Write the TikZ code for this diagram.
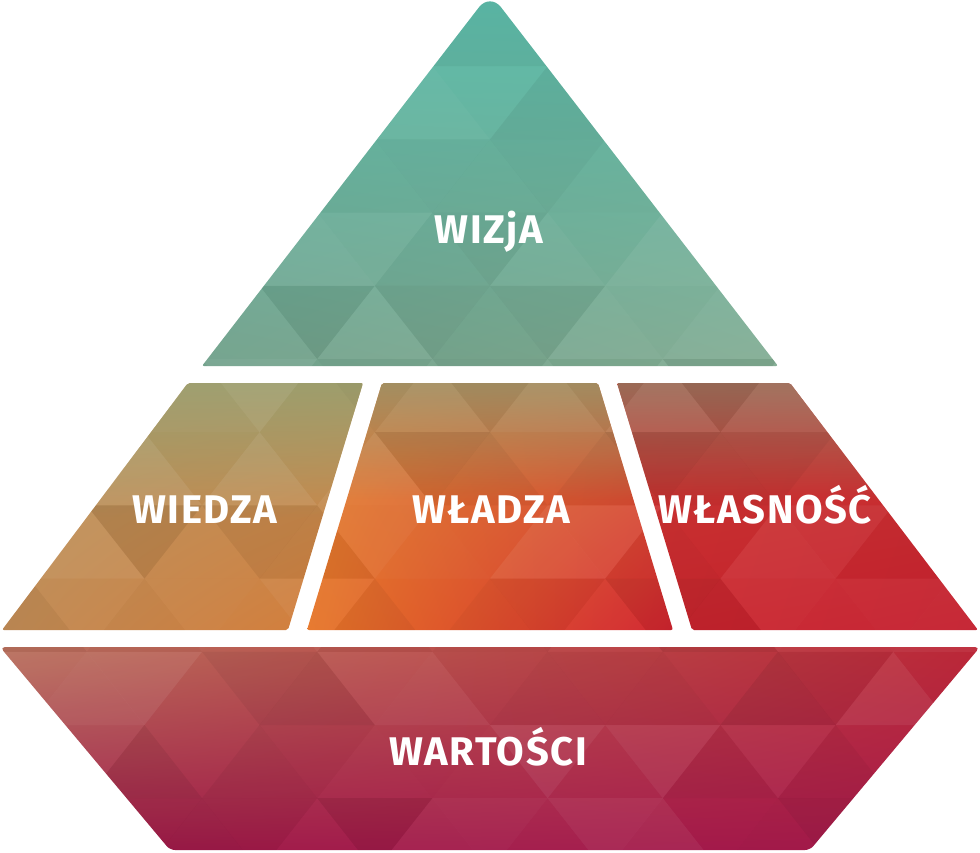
\documentclass[tikz,border=0pt]{standalone}
\usepackage{fontspec}
\setmainfont{Fira Sans}
\usetikzlibrary{shadings,fadings}
\definecolor{tUL}{RGB}{96,190,172}\definecolor{tUR}{RGB}{90,188,170}
\definecolor{tLL}{RGB}{112,160,138}\definecolor{tLR}{RGB}{130,172,146}
\definecolor{lUL}{RGB}{180,146,92}\definecolor{lUR}{RGB}{190,146,90}
\definecolor{lLL}{RGB}{194,140,86}\definecolor{lLR}{RGB}{214,124,56}
\definecolor{cUL}{RGB}{222,128,54}\definecolor{cUR}{RGB}{214,100,52}
\definecolor{cLL}{RGB}{230,118,40}\definecolor{cLR}{RGB}{210,36,48}
\definecolor{rUL}{RGB}{206,62,52}\definecolor{rUR}{RGB}{198,56,50}
\definecolor{rLL}{RGB}{204,38,46}\definecolor{rLR}{RGB}{196,30,46}
\definecolor{bUL}{RGB}{184,112,92}\definecolor{bUR}{RGB}{188,40,56}
\definecolor{bLL}{RGB}{158,26,72}\definecolor{bLR}{RGB}{166,26,76}
\definecolor{lTop}{RGB}{152,160,112}
\definecolor{cTop}{RGB}{158,150,108}
\definecolor{rTop}{RGB}{150,118,96}
\tikzfading[name=topfade, top color=transparent!15, bottom color=transparent!100]
\begin{document}
\begin{tikzpicture}[x=1pt,y=-1pt,
  lbl/.style={text=white,font=\fontsize{40}{40}\selectfont\bfseries\addfontfeatures{LetterSpace=4},inner sep=0pt,anchor=base},
  facet/.style={draw=none}]
\useasboundingbox (0,0) rectangle (980,852);
% shapes
\def\toppath{(202,366) [rounded corners=18pt] -- (490,-7) [rounded corners=2pt] -- (778,366) -- cycle}
\def\mlpath{[rounded corners=2pt] (188,383) -- (363,383) -- (288,630) -- (2,630) -- cycle}
\def\mcpath{[rounded corners=2pt] (382,383) -- (598,383) -- (673,630) -- (307,630) -- cycle}
\def\mrpath{[rounded corners=2pt] (617,383) -- (790,383) -- (978,630) -- (692,630) -- cycle}
\def\btpath{[rounded corners=5pt] (0,647) -- (980,647) -- (810,850) -- (170,850) -- cycle}
\shade[upper left=tUL, upper right=tUR, lower left=tLL, lower right=tLR] \toppath;
\shade[upper left=lUL, upper right=lUR, lower left=lLL, lower right=lLR] \mlpath;
\shade[upper left=cUL, upper right=cUR, lower left=cLL, lower right=cLR] \mcpath;
\shade[upper left=rUL, upper right=rUR, lower left=rLL, lower right=rLR] \mrpath;
\shade[upper left=bUL, upper right=bUR, lower left=bLL, lower right=bLR] \btpath;
% greyish tint along the top of the middle row
\begin{scope}\clip \mlpath; \fill[lTop, path fading=topfade] (0,383) rectangle (370,520); \end{scope}
\begin{scope}\clip \mcpath; \fill[cTop, path fading=topfade] (300,383) rectangle (680,500); \end{scope}
\begin{scope}\clip \mrpath; \fill[rTop, path fading=topfade] (610,383) rectangle (980,500); \end{scope}
% low-poly facets
\begin{scope}
\clip \toppath \mlpath \mcpath \mrpath \btpath;
\pgfmathsetseed{11}
\foreach \j in {0,...,11}{
  \foreach \k in {-9,...,9}{
    \pgfmathsetmacro\ax{490+(\k+0.5*mod(\j,2))*115.2}
    \pgfmathsetmacro\ya{\j*73.2-7}
    \pgfmathsetmacro\yb{(\j+1)*73.2-7}
    \pgfmathsetmacro\ra{rnd}
    \pgfmathsetmacro\oa{0.08*rnd}
    \pgfmathsetmacro\rb{rnd}
    \pgfmathsetmacro\ob{0.08*rnd}
    \ifdim\ra pt>0.5pt \def\cola{white}\else\def\cola{black}\fi
    \ifdim\rb pt>0.5pt \def\colb{white}\else\def\colb{black}\fi
    \fill[facet,\cola,opacity=\oa] (\ax,\ya) -- ({\ax-57.6},\yb) -- ({\ax+57.6},\yb) -- cycle;
    \fill[facet,\colb,opacity=\ob] (\ax,\ya) -- ({\ax+115.2},\ya) -- ({\ax+57.6},\yb) -- cycle;
  }
}
\end{scope}
% labels
\node[lbl] (wizja) at (489,243) {WIZjA};
\node[lbl] (wiedza) at (205,523) {WIEDZA};
\node[lbl] (wladza) at (491,523) {WŁADZA};
\node[lbl] (wlasnosc) at (765,523) {WŁASNOŚĆ};
\node[lbl] (wartosci) at (488,765) {WARTOŚCI};
\end{tikzpicture}
\end{document}
